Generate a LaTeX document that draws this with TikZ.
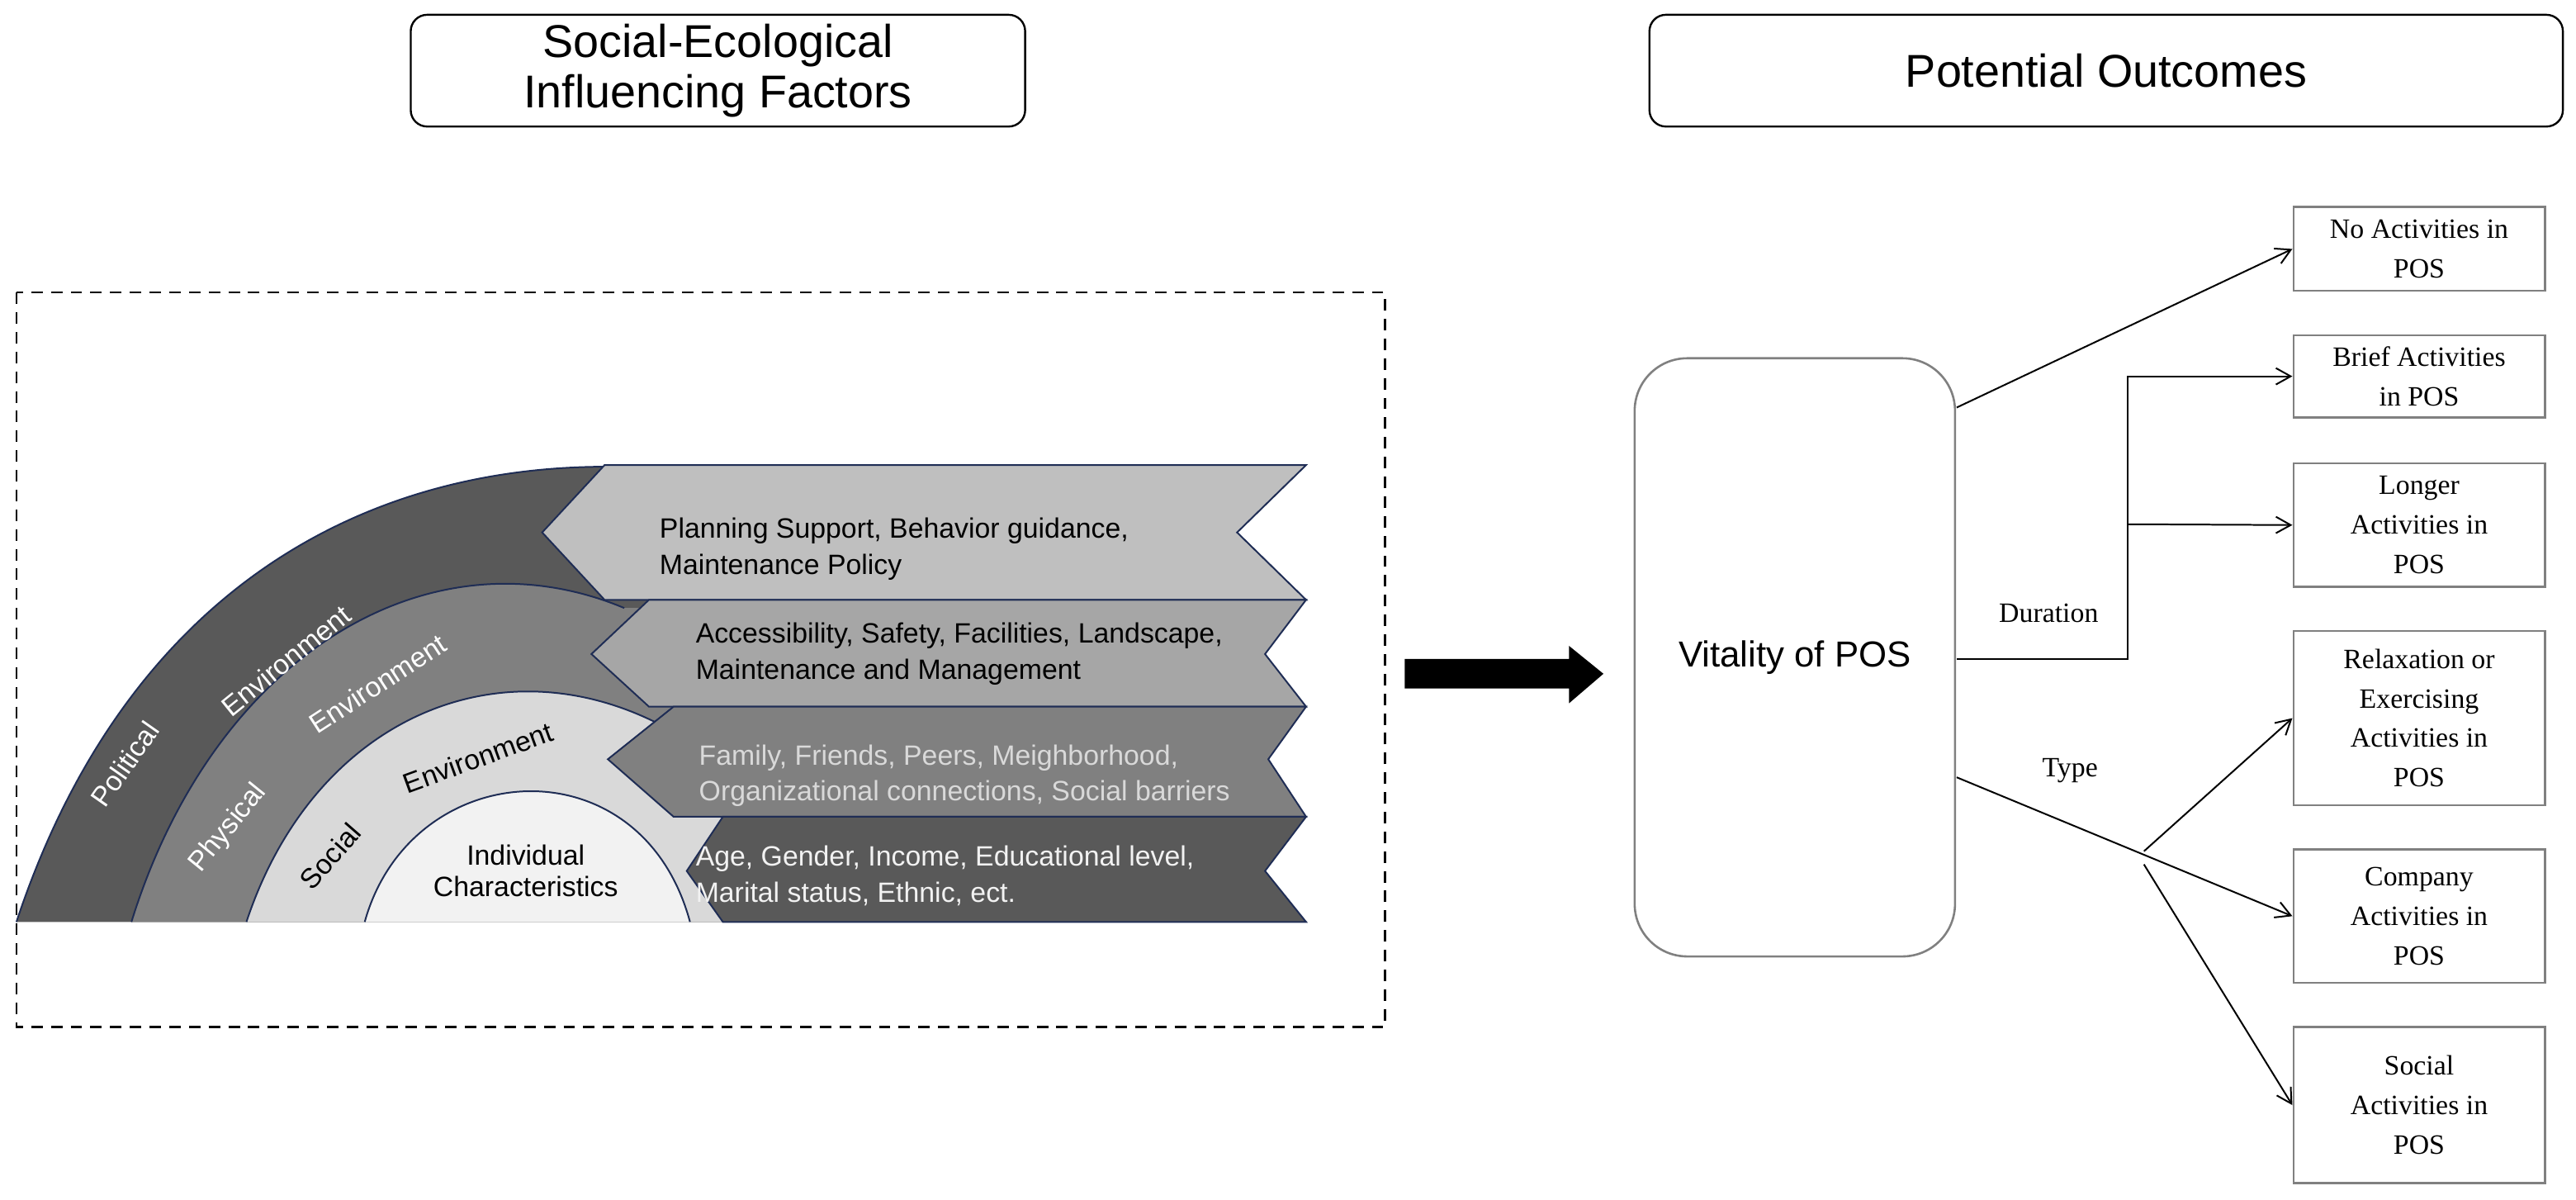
\documentclass[tikz,border=0pt]{standalone}
\usepackage{fontspec}
\setmainfont{Liberation Serif}
\newfontfamily\sansf{Liberation Sans}
\begin{document}
\begin{tikzpicture}[x=1pt,y=-1pt,
  title/.style={draw,rounded corners=10pt,line width=1.2pt,font=\sansf\fontsize{28}{31}\selectfont,align=center,inner sep=0},
  outb/.style={draw=gray,line width=1.3pt,font=\fontsize{17}{24}\selectfont,align=center,inner sep=0},
  chev/.style={draw=navy,line width=1pt},
  band/.style={draw=navy,line width=1pt},
  lbl/.style={font=\sansf\fontsize{17}{22}\selectfont,align=left,anchor=west},
  conn/.style={line width=1pt,-{Straight Barb[length=9pt,width=10pt]}},
  btxt/.style={font=\sansf\fontsize{17}{19}\selectfont}]
\usetikzlibrary{arrows.meta}
\definecolor{navy}{HTML}{1F2D55}
\useasboundingbox (0,0) rectangle (1568,730);
% titles
\node[title,minimum width=374pt,minimum height=68pt] (t1) at (437,43) {Social-Ecological\\Influencing Factors};
\node[title,minimum width=556pt,minimum height=68pt] (t2) at (1282,43) {Potential Outcomes};
% dashed frame
\draw[dashed,line width=1.2pt,dash pattern=on 7pt off 5pt] (10,178) rectangle (843,625);
% bands
\fill[black!65] (10,561) .. controls (75,365) and (215,284) .. (369,284) -- (700,284) -- (700,561) -- cycle;
\fill[black!50] (80,561) .. controls (130,400) and (260,320) .. (380,370) -- (700,370) -- (700,561) -- cycle;
\fill[black!15] (150,561) .. controls (190,440) and (300,390) .. (400,440) -- (700,440) -- (700,561) -- cycle;
\fill[black!5] (222,561) .. controls (250,460) and (390,450) .. (420,561) -- cycle;
\draw[band] (10,561) .. controls (75,365) and (215,284) .. (369,284);
\draw[band] (80,561) .. controls (130,400) and (260,320) .. (380,370);
\draw[band] (150,561) .. controls (190,440) and (300,390) .. (400,440);
\draw[band] (222,561) .. controls (250,460) and (390,450) .. (420,561);
% chevrons
\draw[chev,fill=black!25] (368,283) -- (795,283) -- (753,324) -- (795,365) -- (368,365) -- (330,324) -- cycle;
\draw[chev,fill=black!35] (395,365) -- (795,365) -- (770,398) -- (795,430) -- (395,430) -- (360,398) -- cycle;
\draw[chev,fill=black!50] (410,430) -- (795,430) -- (772,462) -- (795,497) -- (410,497) -- (370,462) -- cycle;
\draw[chev,fill=black!65] (440,497) -- (795,497) -- (770,530) -- (795,561) -- (440,561) -- (418,530) -- cycle;
\node[lbl] (c1) at (398,334) {Planning Support, Behavior guidance,\\Maintenance Policy};
\node[lbl] (c2) at (420,398) {Accessibility, Safety, Facilities, Landscape,\\Maintenance and Management};
\node[lbl,text=black!15] (c3) at (422,472) {Family, Friends, Peers, Meighborhood,\\Organizational connections, Social barriers};
\node[lbl,text=black!5] (c4) at (420,533) {Age, Gender, Income, Educational level,\\Marital status, Ethnic, ect.};
% band labels
\node[btxt,text=white,rotate=55] (p1) at (76,465) {Political};
\node[btxt,text=white,rotate=39] (p2) at (174,402) {Environment};
\node[btxt,text=white,rotate=51] (h1) at (139,504) {Physical};
\node[btxt,text=white,rotate=33] (h2) at (230,416) {Environment};
\node[btxt,rotate=49] (s1) at (201,521) {Social};
\node[btxt,rotate=20] (s2) at (291,461) {Environment};
\node[btxt,align=center] (ic) at (320,530) {Individual\\Characteristics};
% big arrow
\fill (855,401) -- (955,401) -- (955,393) -- (976,410) -- (955,428) -- (955,419) -- (855,419) -- cycle;
% vitality
\node[draw=gray,line width=1.3pt,rounded corners=32pt,minimum width=195pt,minimum height=364pt,font=\sansf\fontsize{22}{26}\selectfont] (v) at (1092.5,400) {Vitality of POS};
% outcomes
\node[outb,minimum width=153pt,minimum height=51pt] (o1) at (1472.5,151.5) {No Activities in\\POS};
\node[outb,minimum width=153pt,minimum height=50pt] (o2) at (1472.5,229) {Brief Activities\\in POS};
\node[outb,minimum width=153pt,minimum height=75pt] (o3) at (1472.5,319.5) {Longer\\Activities in\\POS};
\node[outb,minimum width=153pt,minimum height=106pt] (o4) at (1472.5,437) {Relaxation or\\Exercising\\Activities in\\POS};
\node[outb,minimum width=153pt,minimum height=81pt] (o5) at (1472.5,557.5) {Company\\Activities in\\POS};
\node[outb,minimum width=153pt,minimum height=95pt] (o6) at (1472.5,672.5) {Social\\Activities in\\POS};
% connectors
\coordinate (d0) at (1295,401);
\coordinate (d1) at (1295,229);
\coordinate (d2) at (1295,319);
\coordinate (j) at (1305,518);
\coordinate (j2) at (1305,526);
\draw[conn] (1191,248) -- (o1.west);
\draw[conn] (1191,401) -- (d0) -- (d1) -- (o2.west);
\draw[conn] (d2) -- (o3.west);
\draw[conn] (1191,473) -- (o5.west);
\draw[conn] (j) -- (o4.west);
\draw[conn] (j2) -- (o6.west);
\node[font=\fontsize{17}{20}\selectfont] (dl) at (1247,373) {Duration};
\node[font=\fontsize{17}{20}\selectfont] (tl) at (1260,469) {Type};
\end{tikzpicture}
\end{document}
